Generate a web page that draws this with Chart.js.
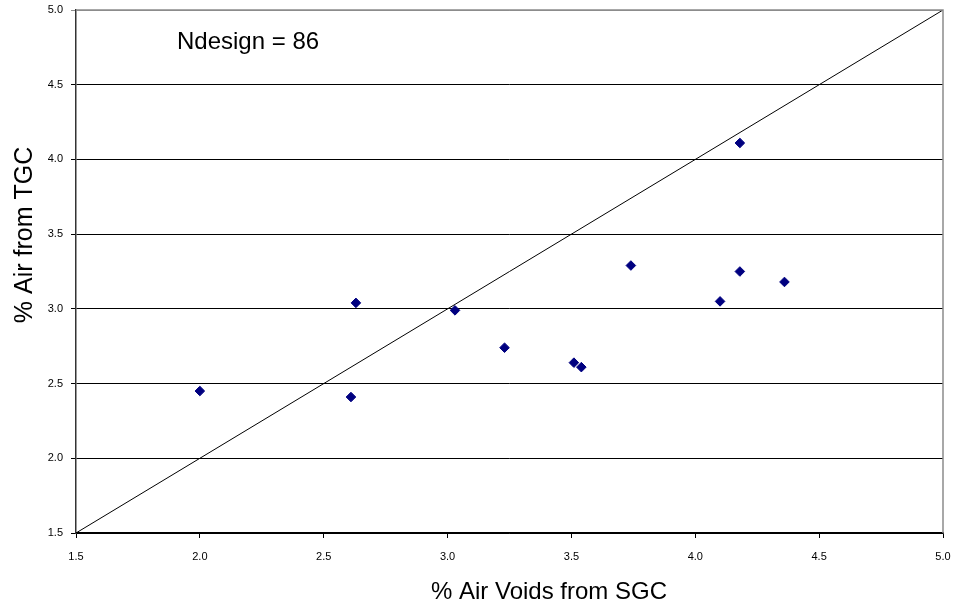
<!DOCTYPE html>
<html>
<head>
<meta charset="utf-8">
<script src="https://cdn.jsdelivr.net/npm/chart.js@4"></script>
<style>
  html, body { margin: 0; padding: 0; background: #fff; }
  #wrap { width: 953px; height: 610px; }
</style>
</head>
<body>
<div id="wrap"><canvas id="chart"></canvas></div>
<script>
// values
const sgcVoids = [2.00, 2.61, 2.63, 3.03, 3.23, 3.51, 3.54, 3.74, 4.18, 4.18, 4.36, 4.10];
const tgcVoids = [2.45, 2.41, 3.04, 2.99, 2.74, 2.64, 2.61, 3.29, 4.11, 3.25, 3.18, 3.05];
const equalityLine = [1.5, 5.0];
const axisTicks = ['1.5', '2.0', '2.5', '3.0', '3.5', '4.0', '4.5', '5.0'];
const noteText = 'Ndesign = 86';
const xTitle = '% Air Voids from SGC';
const yTitle = '% Air from TGC';

const FONT = "'Liberation Sans', Arial, sans-serif";
Chart.defaults.font.family = FONT;
Chart.defaults.color = '#000';

// border on top/right, note and the two axis titles
const frame = {
  id: 'frame',
  afterDatasetsDraw(chart) {
    const { ctx, chartArea: a } = chart;
    ctx.save();
    ctx.strokeStyle = '#8c8c8c';
    ctx.lineWidth = 1.5;
    ctx.beginPath();
    ctx.moveTo(a.left, a.top);
    ctx.lineTo(a.right, a.top);
    ctx.lineTo(a.right, a.bottom);
    ctx.stroke();

    ctx.fillStyle = '#000';
    ctx.textBaseline = 'middle';
    ctx.font = '24px ' + FONT;
    ctx.textAlign = 'left';
    ctx.fillText(noteText, 177, 42);

    ctx.textAlign = 'center';
    ctx.fillText(xTitle, 549, 592);

    ctx.translate(25, 235);
    ctx.rotate(-Math.PI / 2);
    ctx.font = '25px ' + FONT;
    ctx.fillText(yTitle, 0, 0);
    ctx.restore();
  }
};

new Chart(document.getElementById('chart'), {
  type: 'scatter',
  data: {
    datasets: [
      {
        label: 'equality',
        type: 'line',
        data: equalityLine.map(v => ({ x: v, y: v })),
        borderColor: '#000',
        borderWidth: 1,
        pointRadius: 0,
        fill: false
      },
      {
        label: 'TGC vs SGC',
        data: sgcVoids.map((x, i) => ({ x, y: tgcVoids[i] })),
        pointStyle: 'rectRot',
        pointRadius: 4.8,
        backgroundColor: '#000080',
        borderColor: '#000080',
        borderWidth: 1
      }
    ]
  },
  options: {
    responsive: true,
    maintainAspectRatio: false,
    animation: false,
    layout: { padding: { top: 10, right: 10, left: 0, bottom: 0 } },
    plugins: { legend: { display: false }, tooltip: { enabled: false } },
    scales: {
      x: {
        type: 'linear',
        min: 1.5, max: 5.0,
        afterBuildTicks: s => { s.ticks = axisTicks.map(t => ({ value: parseFloat(t) })); },
        afterFit: s => { s.height = 77; s.paddingLeft = 0; s.paddingRight = 0; },
        ticks: { font: { size: 11 }, padding: 12, callback: (v) => Number(v).toFixed(1) },
        grid: { drawOnChartArea: false, drawTicks: true, tickLength: 5, color: '#000' },
        border: { color: '#000', width: 1.5 }
      },
      y: {
        type: 'linear',
        min: 1.5, max: 5.0,
        afterBuildTicks: s => { s.ticks = axisTicks.map(t => ({ value: parseFloat(t) })); },
        afterFit: s => { s.width = 76; s.paddingTop = 0; s.paddingBottom = 0; },
        ticks: { font: { size: 11 }, padding: 8, callback: (v) => Number(v).toFixed(1) },
        grid: {
          tickLength: 5,
          lineWidth: 1,
          color: c => (c.tick && c.tick.value === 5 ? '#8c8c8c' : '#000')
        },
        border: { color: '#333', width: 1.5 }
      }
    }
  },
  plugins: [frame]
});
</script>
</body>
</html>
